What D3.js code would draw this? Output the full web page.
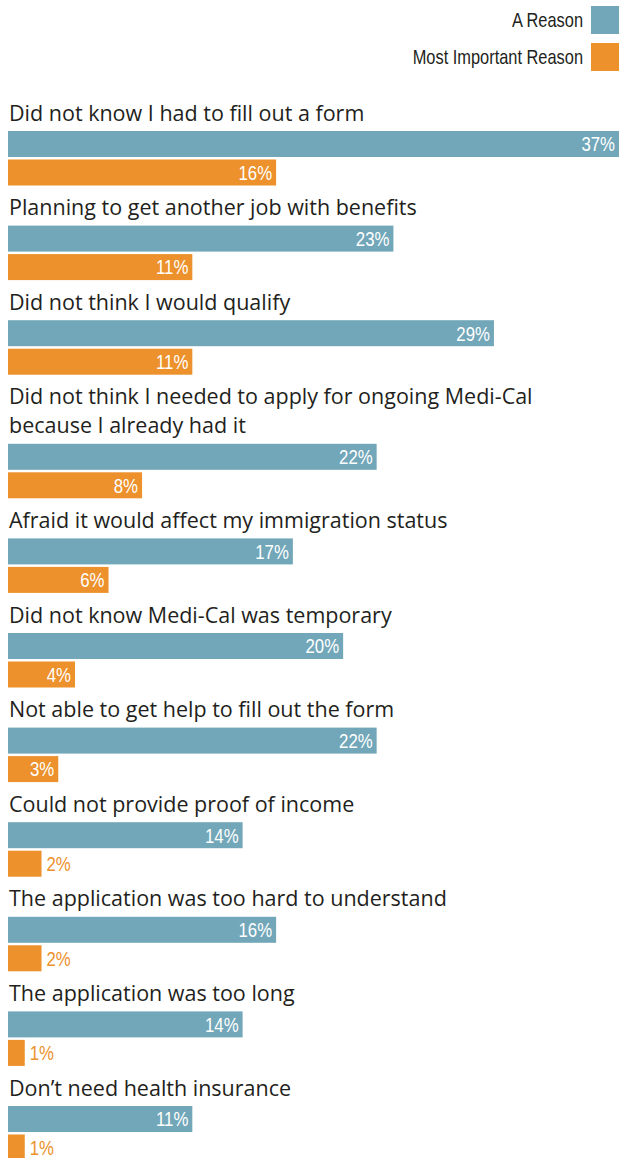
<!DOCTYPE html>
<html lang="en">
<head>
    <meta charset="UTF-8">
    <title>Reasons for not applying</title>
    <style>
        body { margin: 0; background: #fff; }
        svg { display: block; }
    </style>
</head>
<body>
    <svg width="619" height="1158"></svg>

    <script src="https://d3js.org/d3.v7.min.js"></script>
    <script>
        // reasons (a line break is marked with |)
        let reasons = [
            "Did not know I had to fill out a form",
            "Planning to get another job with benefits",
            "Did not think I would qualify",
            "Did not think I needed to apply for ongoing Medi-Cal|because I already had it",
            "Afraid it would affect my immigration status",
            "Did not know Medi-Cal was temporary",
            "Not able to get help to fill out the form",
            "Could not provide proof of income",
            "The application was too hard to understand",
            "The application was too long",
            "Don\u2019t need health insurance"
        ];
        let aReason = [37, 23, 29, 22, 17, 20, 22, 14, 16, 14, 11];
        let mostImportant = [16, 11, 11, 8, 6, 4, 3, 2, 2, 1, 1];
        let seriesNames = ["A Reason", "Most Important Reason"];
        let seriesColors = ["#72a7b9", "#ec912b"];

        let svg = d3.select("svg");
        let titleFont = "'Open Sans', sans-serif";
        let narrowFont = "'Liberation Sans', sans-serif";
        let squeeze = 0.8; // fake a condensed face

        let x = d3.scaleLinear().domain([0, 37]).range([8, 628]);

        function narrowText(px, py, anchor, size, color, str) {
            return svg.append("text")
                .attr("transform", "translate(" + px + "," + py + ") scale(" + squeeze + ",1)")
                .attr("dy", "0.35em")
                .attr("text-anchor", anchor)
                .style("font-family", narrowFont)
                .style("font-size", size + "px")
                .attr("fill", color)
                .text(str);
        }

        // legend
        seriesNames.forEach(function(name, i) {
            let cy = 20 + i * 37;
            svg.append("rect")
                .attr("x", 591).attr("y", cy - 14)
                .attr("width", 28).attr("height", 28)
                .attr("fill", seriesColors[i]);
            narrowText(583, cy, "end", 20.5, "#231f20", name);
        });

        let groupStep = 94.6;
        let lineStep = 29;
        let extraLines = 0;

        for (let i = 0; i < reasons.length; i++) {
            let lines = reasons[i].split("|");
            let firstCenter = 113 + groupStep * i + lineStep * extraLines;
            lines.forEach(function(line, j) {
                svg.append("text")
                    .attr("x", 9).attr("y", firstCenter + j * lineStep)
                    .attr("dy", "0.35em")
                    .style("font-family", titleFont)
                    .style("font-size", "21.5px")
                    .attr("fill", "#231f20")
                    .text(line);
            });
            let lastCenter = firstCenter + (lines.length - 1) * lineStep;
            extraLines += lines.length - 1;

            let vals = [aReason[i], mostImportant[i]];
            vals.forEach(function(v, k) {
                let y0 = lastCenter + 18 + k * 28.5;
                svg.append("rect")
                    .attr("x", x(0)).attr("y", y0)
                    .attr("width", x(v) - x(0)).attr("height", 26)
                    .attr("fill", seriesColors[k]);
                let inside = v >= 3;
                narrowText(inside ? Math.min(x(v), 619) - 4 : x(v) + 5, y0 + 13,
                    inside ? "end" : "start", 21, inside ? "#fff" : seriesColors[k], v + "%");
            });
        }
    </script>
</body>
</html>
